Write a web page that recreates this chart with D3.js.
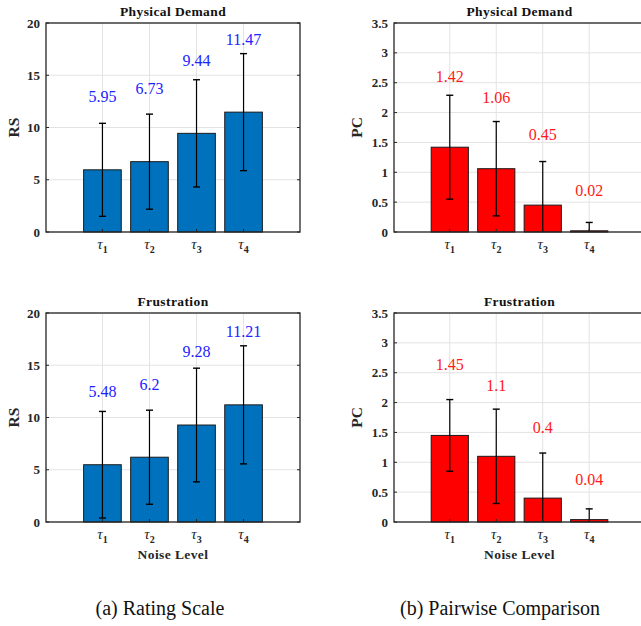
<!DOCTYPE html>
<html><head><meta charset="utf-8">
<script src="https://cdn.jsdelivr.net/npm/d3@7"></script>
<style>body{margin:0;background:#fff}svg{display:block}</style>
</head><body>
<svg id="c" width="641" height="626"></svg>
<script>
const categories = ["1","2","3","4"];
const rsPhysical = [5.95, 6.73, 9.44, 11.47];
const rsPhysicalErr = [4.45, 4.55, 5.13, 5.6];
const rsFrustration = [5.48, 6.2, 9.28, 11.21];
const rsFrustrationErr = [5.1, 4.5, 5.44, 5.65];
const pcPhysical = [1.42, 1.06, 0.45, 0.02];
const pcPhysicalErr = [0.87, 0.79, 0.73, 0.14];
const pcFrustration = [1.45, 1.1, 0.4, 0.04];
const pcFrustrationErr = [0.6, 0.79, 0.755, 0.18];
const rsTicks = [0, 5, 10, 15, 20];
const pcTicks = [0, 0.5, 1, 1.5, 2, 2.5, 3, 3.5];

const svg = d3.select("#c");
const serif = "Liberation Serif";

function txt(sel) { return sel.style("font-family", serif); }

function panel(o) {
  const g = svg.append("g");
  const x = d3.scaleLinear().domain([-0.2, 5.2]).range([o.x0, o.x1]);
  const y = d3.scaleLinear().domain([0, o.ymax]).range([o.y1, o.y0]);
  const clipId = "clip" + o.id;
  svg.append("clipPath").attr("id", clipId).append("rect")
    .attr("x", o.x0).attr("y", o.y0).attr("width", o.x1 - o.x0).attr("height", o.y1 - o.y0);
  // grid
  g.selectAll(".hg").data(o.ticks).enter().append("line")
    .attr("x1", o.x0).attr("x2", o.x1).attr("y1", d => y(d)).attr("y2", d => y(d))
    .attr("stroke", "#e3e3e3").attr("stroke-width", 1);
  g.selectAll(".vg").data(categories).enter().append("line")
    .attr("x1", (d, i) => x(i + 1)).attr("x2", (d, i) => x(i + 1))
    .attr("y1", o.y0).attr("y2", o.y1)
    .attr("stroke", "#e3e3e3").attr("stroke-width", 1);
  const bw = x(1.8) - x(1);
  // bars
  g.selectAll(".bar").data(o.values).enter().append("rect")
    .attr("x", (d, i) => x(i + 1) - bw / 2).attr("width", bw)
    .attr("y", d => y(d)).attr("height", d => y(0) - y(d))
    .attr("fill", o.color).attr("stroke", "#1a1a1a").attr("stroke-width", 1);
  // error bars
  const eg = g.append("g").attr("clip-path", `url(#${clipId})`);
  o.values.forEach((v, i) => {
    const cx = x(i + 1), e = o.err[i];
    eg.append("line").attr("x1", cx).attr("x2", cx).attr("y1", y(v - e)).attr("y2", y(v + e))
      .attr("stroke", "#000").attr("stroke-width", 1.2);
    [v - e, v + e].forEach(t => {
      eg.append("line").attr("x1", cx - 3.5).attr("x2", cx + 3.5).attr("y1", y(t)).attr("y2", y(t))
        .attr("stroke", "#000").attr("stroke-width", 1.4);
    });
  });
  // value labels
  o.values.forEach((v, i) => {
    const off = (o.ymax < 10 && v < 0.1) ? 0.68 : o.labelOff;
    txt(g.append("text")).attr("x", x(i + 1)).attr("y", y(v + off))
      .attr("dy", "0.35em").attr("text-anchor", "middle")
      .attr("font-size", 16).attr("fill", o.labelColor)
      .text(String(v));
  });
  // axes box
  g.append("rect").attr("x", o.x0).attr("y", o.y0).attr("width", o.x1 - o.x0).attr("height", o.y1 - o.y0)
    .attr("fill", "none").attr("stroke", "#262626").attr("stroke-width", 1.3);
  // y ticks
  o.ticks.forEach(t => {
    g.append("line").attr("x1", o.x0).attr("x2", o.x0 + 3).attr("y1", y(t)).attr("y2", y(t))
      .attr("stroke", "#262626");
    g.append("line").attr("x1", o.x1).attr("x2", o.x1 - 3).attr("y1", y(t)).attr("y2", y(t))
      .attr("stroke", "#262626");
    txt(g.append("text")).attr("x", o.x0 - 6).attr("y", y(t)).attr("dy", "0.35em")
      .attr("text-anchor", "end").attr("font-weight", "bold")
      .attr("font-size", 13).attr("fill", "#262626").text(String(t));
  });
  // x ticks
  categories.forEach((c, i) => {
    g.append("line").attr("x1", x(i + 1)).attr("x2", x(i + 1)).attr("y1", o.y1).attr("y2", o.y1 - 3)
      .attr("stroke", "#262626");
    const t = txt(g.append("text")).attr("x", x(i + 1)).attr("y", o.y1 + 17)
      .attr("text-anchor", "middle").attr("font-size", 15).attr("fill", "#262626");
    t.append("tspan").attr("font-style", "italic").text("τ");
    t.append("tspan").attr("font-size", 10).attr("font-weight", "bold").attr("dy", 4).text(c);
  });
  // title
  txt(g.append("text")).attr("x", (o.x0 + o.x1) / 2).attr("y", o.y0 - 7)
    .attr("text-anchor", "middle").attr("font-weight", "bold").attr("letter-spacing", 0.4)
    .attr("font-size", 13.5).attr("fill", "#111").text(o.title);
  // y label
  txt(g.append("text")).attr("transform", `translate(${o.ylabX},${(o.y0 + o.y1) / 2}) rotate(-90)`)
    .attr("text-anchor", "middle").attr("dy", "0.35em").attr("font-weight", "bold")
    .attr("font-size", 15.5).attr("fill", "#262626").text(o.ylab);
  if (o.xlab) {
    txt(g.append("text")).attr("x", (o.x0 + o.x1) / 2).attr("y", o.y1 + 37)
      .attr("text-anchor", "middle").attr("font-weight", "bold").attr("letter-spacing", 0.4)
      .attr("font-size", 13.5).attr("fill", "#262626").text(o.xlab);
  }
}

panel({id: 1, x0: 46, x1: 300, y0: 23, y1: 232, ymax: 20, ticks: rsTicks, values: rsPhysical, err: rsPhysicalErr,
  color: "#0072bd", labelColor: "#2222ff", labelOff: 7, title: "Physical Demand", ylab: "RS", ylabX: 14});
panel({id: 2, x0: 394, x1: 645, y0: 23, y1: 232, ymax: 3.5, ticks: pcTicks, values: pcPhysical, err: pcPhysicalErr,
  color: "#ff0000", labelColor: "#ff1a1a", labelOff: 1.19, title: "Physical Demand", ylab: "PC", ylabX: 357});
panel({id: 3, x0: 46, x1: 300, y0: 313, y1: 522, ymax: 20, ticks: rsTicks, values: rsFrustration, err: rsFrustrationErr,
  color: "#0072bd", labelColor: "#2222ff", labelOff: 7, title: "Frustration", ylab: "RS", ylabX: 14, xlab: "Noise Level"});
panel({id: 4, x0: 394, x1: 645, y0: 313, y1: 522, ymax: 3.5, ticks: pcTicks, values: pcFrustration, err: pcFrustrationErr,
  color: "#ff0000", labelColor: "#ff1a1a", labelOff: 1.19, title: "Frustration", ylab: "PC", ylabX: 357, xlab: "Noise Level"});

txt(svg.append("text")).attr("x", 160).attr("y", 615).attr("text-anchor", "middle")
  .attr("font-size", 20).attr("fill", "#111").text("(a) Rating Scale");
txt(svg.append("text")).attr("x", 500).attr("y", 615).attr("text-anchor", "middle")
  .attr("font-size", 20).attr("fill", "#111").text("(b) Pairwise Comparison");
</script>
</body></html>
